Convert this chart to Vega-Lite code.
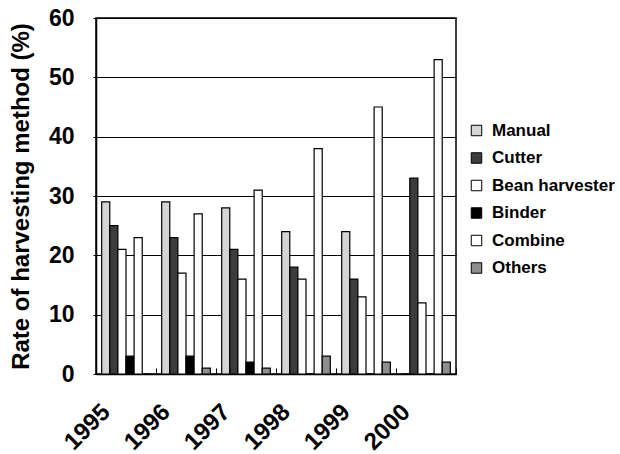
{
  "$schema": "https://vega.github.io/schema/vega-lite/v6.json",
  "width": 360,
  "height": 356,
  "autosize": {"type": "none"},
  "padding": {"left": 96, "top": 18, "right": 164, "bottom": 80},
  "background": "white",
  "config": {
    "view": {"stroke": "black", "strokeWidth": 1.5},
    "font": "Liberation Sans"
  },
  "data": {
    "values": [
      {"year": "1995", "method": "Manual", "value": 29},
      {"year": "1995", "method": "Cutter", "value": 25},
      {"year": "1995", "method": "Bean harvester", "value": 21},
      {"year": "1995", "method": "Binder", "value": 3},
      {"year": "1995", "method": "Combine", "value": 23},
      {"year": "1995", "method": "Others", "value": 0},
      {"year": "1996", "method": "Manual", "value": 29},
      {"year": "1996", "method": "Cutter", "value": 23},
      {"year": "1996", "method": "Bean harvester", "value": 17},
      {"year": "1996", "method": "Binder", "value": 3},
      {"year": "1996", "method": "Combine", "value": 27},
      {"year": "1996", "method": "Others", "value": 1},
      {"year": "1997", "method": "Manual", "value": 28},
      {"year": "1997", "method": "Cutter", "value": 21},
      {"year": "1997", "method": "Bean harvester", "value": 16},
      {"year": "1997", "method": "Binder", "value": 2},
      {"year": "1997", "method": "Combine", "value": 31},
      {"year": "1997", "method": "Others", "value": 1},
      {"year": "1998", "method": "Manual", "value": 24},
      {"year": "1998", "method": "Cutter", "value": 18},
      {"year": "1998", "method": "Bean harvester", "value": 16},
      {"year": "1998", "method": "Binder", "value": 0},
      {"year": "1998", "method": "Combine", "value": 38},
      {"year": "1998", "method": "Others", "value": 3},
      {"year": "1999", "method": "Manual", "value": 24},
      {"year": "1999", "method": "Cutter", "value": 16},
      {"year": "1999", "method": "Bean harvester", "value": 13},
      {"year": "1999", "method": "Binder", "value": 0},
      {"year": "1999", "method": "Combine", "value": 45},
      {"year": "1999", "method": "Others", "value": 2},
      {"year": "2000", "method": "Manual", "value": 0},
      {"year": "2000", "method": "Cutter", "value": 33},
      {"year": "2000", "method": "Bean harvester", "value": 12},
      {"year": "2000", "method": "Binder", "value": 0},
      {"year": "2000", "method": "Combine", "value": 53},
      {"year": "2000", "method": "Others", "value": 2}
    ]
  },
  "mark": {"type": "bar", "stroke": "black", "strokeWidth": 1.2},
  "encoding": {
    "x": {
      "field": "year",
      "type": "nominal",
      "scale": {"paddingInner": 0, "paddingOuter": 0},
      "axis": {
        "title": null,
        "labelAngle": -45,
        "labelAlign": "right",
        "labelBaseline": "middle",
        "labelFont": "Liberation Sans",
        "labelFontWeight": "bold",
        "labelFontSize": 24,
        "labelColor": "black",
        "labelOffset": -20,
        "labelPadding": 40,
        "tickBand": "extent",
        "tickSize": -6,
        "tickColor": "black",
        "domainColor": "black",
        "domainWidth": 1.5
      }
    },
    "xOffset": {
      "field": "method",
      "type": "nominal",
      "sort": ["Manual", "Cutter", "Bean harvester", "Binder", "Combine", "Others"],
      "scale": {"paddingInner": 0, "paddingOuter": 0.7}
    },
    "y": {
      "field": "value",
      "type": "quantitative",
      "scale": {"domain": [0, 60], "nice": false},
      "axis": {
        "title": "Rate of harvesting method (%)",
        "titleFont": "Liberation Sans",
        "titleFontWeight": "bold",
        "titleFontSize": 24,
        "titleColor": "black",
        "titlePadding": 15,
        "values": [0, 10, 20, 30, 40, 50, 60],
        "labelFont": "Liberation Sans",
        "labelFontWeight": "bold",
        "labelFontSize": 23,
        "labelColor": "black",
        "labelPadding": 19,
        "tickSize": 3,
        "tickColor": "black",
        "domainColor": "black",
        "domainWidth": 1.5,
        "grid": true,
        "gridColor": "black",
        "gridOpacity": 1,
        "gridWidth": 1
      }
    },
    "fill": {
      "field": "method",
      "type": "nominal",
      "sort": ["Manual", "Cutter", "Bean harvester", "Binder", "Combine", "Others"],
      "scale": {
        "domain": ["Manual", "Cutter", "Bean harvester", "Binder", "Combine", "Others"],
        "range": ["#d4d4d4", "#3c3c3c", "#ffffff", "#000000", "#ffffff", "#8e8e8e"]
      },
      "legend": {
        "title": null,
        "orient": "none",
        "legendX": 372,
        "legendY": 104,
        "symbolType": "square",
        "symbolSize": 110,
        "symbolStrokeColor": "black",
        "symbolStrokeWidth": 1,
        "labelFont": "Liberation Sans",
        "labelFontWeight": "bold",
        "labelFontSize": 17,
        "labelColor": "black",
        "labelOffset": 7,
        "rowPadding": 9.5
      }
    }
  }
}
